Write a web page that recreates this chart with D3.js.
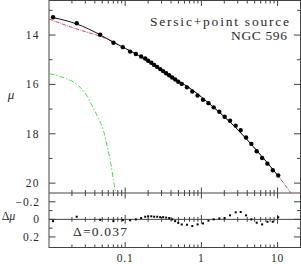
<!DOCTYPE html>
<html>
<head>
<meta charset="utf-8">
<script src="https://cdn.jsdelivr.net/npm/d3@7"></script>
<style>
html, body { margin: 0; padding: 0; background: #fff; }
svg { display: block; }
text { font-family: "Liberation Serif", serif; fill: #2a2a2a; }
</style>
</head>
<body>
<svg id="chart"></svg>
<script>
const width = 301, height = 264;

// measured profile (arcsec, mag/arcsec^2) and fit residuals
const radius = [0.0113, 0.0231, 0.0469, 0.0701, 0.0931, 0.116, 0.138, 0.162, 0.183,
  0.200, 0.220, 0.240, 0.263, 0.288, 0.315, 0.345, 0.378, 0.414, 0.453, 0.497, 0.552,
  0.647, 0.760, 0.892, 1.05, 1.24, 1.45, 1.72, 2.02, 2.38, 2.82, 3.28, 3.86, 4.53,
  5.32, 6.27, 7.36, 8.65, 10.2];
const mu = [13.28, 13.52, 13.99, 14.31, 14.49, 14.67, 14.77, 14.87, 14.95,
  15.04, 15.12, 15.21, 15.29, 15.38, 15.46, 15.55, 15.63, 15.72, 15.80, 15.89, 15.98,
  16.12, 16.29, 16.45, 16.62, 16.76, 16.93, 17.11, 17.31, 17.47, 17.67, 17.86, 18.15, 18.41,
  18.71, 18.98, 19.21, 19.48, 19.69];
const resid = [0.02, -0.03, 0.005, 0.02, 0.008, 0.01, 0.0, -0.015, -0.03,
  -0.035, -0.035, -0.03, -0.03, -0.025, -0.025, -0.02, -0.015, 0.0, 0.02, 0.04, 0.058,
  0.061, 0.076, 0.057, 0.046, 0.015, 0.0, -0.011, -0.015, -0.046, -0.08, -0.084, -0.046, 0.0,
  0.038, 0.057, 0.027, 0.027, -0.023];

// total model (black), Sersic part (red / blue), point source (green)
const modelRadius = [0.0113, 0.0231, 0.047, 0.07, 0.1, 0.15, 0.2, 0.3, 0.4, 0.55, 0.75,
  1.0, 1.4, 2.0, 2.8, 3.9, 5.3, 7.4, 10.2];
const modelMu = [13.29, 13.55, 13.99, 14.29, 14.54, 14.83, 15.07, 15.44, 15.67, 15.94, 16.21,
  16.51, 16.89, 17.31, 17.74, 18.21, 18.67, 19.19, 19.71];
const sersicRadius = [0.01, 0.0162, 0.0297, 0.047, 0.0635, 0.1, 0.15, 0.2, 0.3, 0.4, 0.55, 0.75,
  1.0, 1.4, 2.0, 2.8, 3.9, 5.3, 7.4, 10.2, 12, 14, 16];
const sersicMu = [13.35, 13.59, 13.86, 14.05, 14.22, 14.54, 14.83, 15.07, 15.44, 15.67, 15.94, 16.21,
  16.51, 16.89, 17.31, 17.74, 18.21, 18.67, 19.19, 19.71, 20.0, 20.28, 20.52];
const psfRadius = [0.0101, 0.0120, 0.0147, 0.0171, 0.0255, 0.0319, 0.0382, 0.0445, 0.0493,
  0.0528, 0.0584, 0.0647, 0.0700, 0.0737, 0.0760];
const psfMu = [15.57, 15.61, 15.70, 15.77, 16.11, 16.49, 16.96, 17.37, 17.68,
  17.95, 18.55, 19.20, 19.85, 20.28, 20.55];

const muTicks = [14, 16, 18, 20];
const muMinor = [13, 15, 17, 19];
const residTicks = [-0.2, 0, 0.2];
const residMinor = [-0.1, 0.1];
const residLabels = ['\u22120.2', '0', '0.2'];
const rMajor = [0.1, 1, 10];
const rLabels = ['0.1', '1', '10'];

const pLeft = 49, pRight = 300.5, pTop = 0.5, pMid = 193, pBottom = 247.5;
const frame = '#444';

const x = d3.scaleLog().domain([0.01, 20]).range([pLeft, pRight]);
const y = d3.scaleLinear().domain([12.6, 20.4]).range([pTop, pMid]);
const yr = d3.scaleLinear().domain([-0.3, 0.32]).range([pMid, pBottom]);

const svg = d3.select('#chart')
  .attr('width', width)
  .attr('height', height)
  .attr('viewBox', [0, 0, width, height]);

svg.append('clipPath').attr('id', 'clipMain')
  .append('rect').attr('x', pLeft).attr('y', pTop).attr('width', pRight - pLeft).attr('height', pMid - pTop);

const xMinor = x.ticks().filter(d => !rMajor.includes(d) && d > 0.01 && d < 20);

// x ticks on a horizontal line, going up and/or down
function xTicks(g, yy, up, down) {
  g.selectAll(null).data(xMinor).enter().append('line')
    .attr('x1', d => x(d)).attr('x2', d => x(d))
    .attr('y1', yy - up * 3).attr('y2', yy + down * 3);
  g.selectAll(null).data(rMajor).enter().append('line')
    .attr('x1', d => x(d)).attr('x2', d => x(d))
    .attr('y1', yy - up * 5.5).attr('y2', yy + down * 5.5);
}
function yTicks(g, scale, major, minor) {
  [pLeft, pRight].forEach((xx, i) => {
    const s = i === 0 ? 1 : -1;
    g.selectAll(null).data(major).enter().append('line')
      .attr('x1', xx).attr('x2', xx + s * 6.5)
      .attr('y1', d => scale(d)).attr('y2', d => scale(d));
    g.selectAll(null).data(minor).enter().append('line')
      .attr('x1', xx).attr('x2', xx + s * 3.5)
      .attr('y1', d => scale(d)).attr('y2', d => scale(d));
  });
}

const axes = svg.append('g').attr('stroke', frame).attr('stroke-width', 1).attr('fill', 'none');
axes.append('rect').attr('x', pLeft).attr('y', pTop).attr('width', pRight - pLeft).attr('height', pBottom - pTop);
axes.append('line').attr('x1', pLeft).attr('x2', pRight).attr('y1', pMid).attr('y2', pMid);
axes.append('line').attr('x1', pLeft).attr('x2', pRight).attr('y1', yr(0)).attr('y2', yr(0));
xTicks(axes, pTop, 0, 1);
xTicks(axes, pMid, 1, 1);
xTicks(axes, yr(0), 0.8, 0.8);
xTicks(axes, pBottom, 1, 0);
yTicks(axes, y, muTicks, muMinor);
yTicks(axes, yr, residTicks, residMinor);

// labels
svg.append('g').selectAll('text').data(muTicks).enter().append('text')
  .attr('x', 40).attr('y', d => y(d)).attr('dy', '0.34em')
  .attr('text-anchor', 'end').style('font-size', '11.5px').style('letter-spacing', '1.4px')
  .text(d => d);
svg.append('g').selectAll('text').data(residTicks).enter().append('text')
  .attr('x', 40).attr('y', d => yr(d)).attr('dy', '0.34em')
  .attr('text-anchor', 'end').style('font-size', '11.5px').style('letter-spacing', '0.9px')
  .text((d, i) => residLabels[i]);
svg.append('g').selectAll('text').data(rMajor).enter().append('text')
  .attr('x', d => x(d)).attr('y', 258).attr('dy', '0.34em')
  .attr('text-anchor', 'middle').style('font-size', '11.5px').style('letter-spacing', '0.9px')
  .text((d, i) => rLabels[i]);

svg.append('text').attr('x', 11).attr('y', 95).attr('dy', '0.34em')
  .attr('text-anchor', 'middle').style('font-size', '13px').style('font-style', 'italic')
  .text('\u03bc');
svg.append('text').attr('x', 8.5).attr('y', 216).attr('dy', '0.34em')
  .attr('text-anchor', 'middle').style('font-size', '12px')
  .html('\u0394<tspan font-style="italic">\u03bc</tspan>');

svg.append('text').attr('x', 150).attr('y', 25.5)
  .attr('textLength', 139).attr('lengthAdjust', 'spacing')
  .style('font-size', '13.5px').text('Sersic+point source');
svg.append('text').attr('x', 231).attr('y', 40)
  .attr('textLength', 56).attr('lengthAdjust', 'spacing')
  .style('font-size', '13.5px').text('NGC 596');
svg.append('text').attr('x', 73).attr('y', 236)
  .attr('textLength', 54).attr('lengthAdjust', 'spacing')
  .style('font-size', '13.5px').text('\u0394=0.037');

// curves
const curves = svg.append('g').attr('clip-path', 'url(#clipMain)').attr('fill', 'none');
const line = d3.line().x(d => x(d[0])).y(d => y(d[1])).curve(d3.curveMonotoneX);

curves.append('path')
  .attr('d', line(psfRadius.map((r, i) => [r, psfMu[i]])))
  .attr('stroke', '#44e044').attr('stroke-width', 1).attr('stroke-dasharray', '5,2,1.5,2');
curves.append('path')
  .attr('d', line(sersicRadius.map((r, i) => [r, sersicMu[i]])))
  .attr('stroke', '#5aa0ff').attr('stroke-width', 1).attr('stroke-dasharray', '1.2,5.8')
  .attr('stroke-dashoffset', -5);
curves.append('path')
  .attr('d', line(sersicRadius.map((r, i) => [r, sersicMu[i]])))
  .attr('stroke', '#ff3b3b').attr('stroke-width', 1).attr('stroke-dasharray', '4,3');
curves.append('path')
  .attr('d', line(modelRadius.map((r, i) => [r, modelMu[i]])))
  .attr('stroke', '#111').attr('stroke-width', 1);

// data
svg.append('g').selectAll('circle').data(radius).enter().append('circle')
  .attr('cx', d => x(d)).attr('cy', (d, i) => y(mu[i])).attr('r', 2.2).attr('fill', '#000');
svg.append('g').selectAll('rect').data(radius).enter().append('rect')
  .attr('x', d => x(d) - 1).attr('y', (d, i) => yr(resid[i]) - 1)
  .attr('width', 2).attr('height', 2).attr('fill', '#000');
</script>
</body>
</html>
